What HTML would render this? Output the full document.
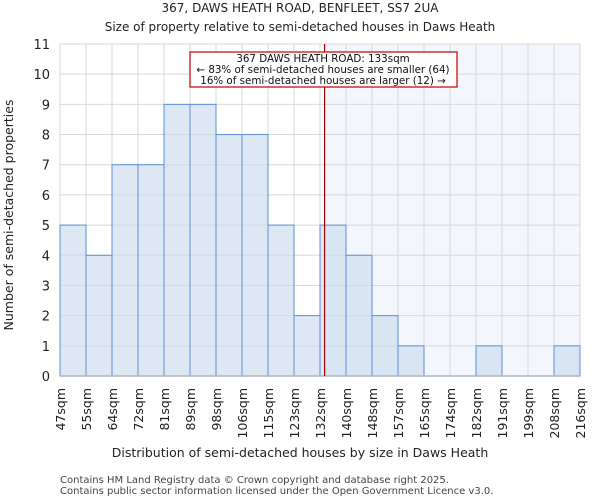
<!DOCTYPE html>
<html><head><meta charset="utf-8"><style>
body{margin:0;background:#fff;font-family:"DejaVu Sans","Liberation Sans",sans-serif}
svg text{font-family:"DejaVu Sans","Liberation Sans",sans-serif}
</style></head><body>
<svg id="c" width="600" height="500" xmlns="http://www.w3.org/2000/svg">
<text x="300" y="12" text-anchor="middle" font-size="12" fill="#222">367, DAWS HEATH ROAD, BENFLEET, SS7 2UA</text>
<text x="300" y="31" text-anchor="middle" font-size="12" fill="#222">Size of property relative to semi-detached houses in Daws Heath</text>
<g id="grid"></g><g id="bars"></g><g id="ann"></g>
<text x="300" y="457" text-anchor="middle" font-size="12.5" fill="#222">Distribution of semi-detached houses by size in Daws Heath</text>
<text transform="translate(13,215) rotate(-90)" text-anchor="middle" font-size="12.5" fill="#222">Number of semi-detached properties</text>
<text x="60" y="483" font-size="10" fill="#444">Contains HM Land Registry data © Crown copyright and database right 2025.</text>
<text x="60" y="494" font-size="10" fill="#444">Contains public sector information licensed under the Open Government Licence v3.0.</text>
</svg>
<script>
const categories=["47sqm","55sqm","64sqm","72sqm","81sqm","89sqm","98sqm","106sqm","115sqm","123sqm","132sqm","140sqm","148sqm","157sqm","165sqm","174sqm","182sqm","191sqm","199sqm","208sqm","216sqm"];
const counts=[5,4,7,7,9,9,8,8,5,2,5,4,2,1,0,0,1,0,0,1];
const yTicks=[0,1,2,3,4,5,6,7,8,9,10,11];
const binStarts=[47,55,64,72,81,89,98,106,115,123,131.5,140,148,157,165,174,182,191,199,208,216];
const propertySize=133;
const X0=60,X1=580,Y0=376,Y1=44,YMAX=11;
const nb=counts.length, bw=(X1-X0)/nb;
const y=v=>Y0-(Y0-Y1)*v/YMAX;
const xi=i=>X0+i*bw;
function xv(v){for(let i=0;i<binStarts.length-1;i++){if(v>=binStarts[i]&&v<=binStarts[i+1])return xi(i)+bw*(v-binStarts[i])/(binStarts[i+1]-binStarts[i]);}return X1;}
const NS="http://www.w3.org/2000/svg";
function mk(t,a,p){const e=document.createElementNS(NS,t);for(const k in a)e.setAttribute(k,a[k]);p.appendChild(e);return e;}
const g=document.getElementById('grid'),b=document.getElementById('bars'),an=document.getElementById('ann');
const lx=xv(propertySize);
const hl=mk('rect',{x:lx,y:Y1,width:X1-lx,height:Y0-Y1,fill:'#f3f6fd'},g);


yTicks.forEach(t=>{
 const l=mk('line',{x1:X0,x2:X1,y1:y(t),y2:y(t),stroke:'#d8d8d8','stroke-width':1},g);
 
 
 const tx=mk('text',{x:X0-10,y:y(t)+5,'text-anchor':'end','font-size':13,fill:'#222'},g);
 tx.textContent=t;
 
 
});
categories.forEach((c,i)=>{
 const l=mk('line',{x1:xi(i),x2:xi(i),y1:Y1,y2:Y0,stroke:'#d8d8d8','stroke-width':1},g);
 
 
 const tx=mk('text',{transform:`translate(${xi(i)+5},${Y0+12}) rotate(-90)`,'text-anchor':'end','font-size':12.5,fill:'#222'},g);
 tx.textContent=c;
 
 
});
counts.forEach((v,i)=>{
 if(v<=0)return;
 const r=mk('rect',{x:xi(i),y:y(v),width:bw,height:Y0-y(v),fill:'rgba(205,220,240,0.65)',stroke:'#5b8fd6','stroke-width':1},b);
 
 
});
const ax=mk('line',{x1:X0,x2:X1,y1:Y0,y2:Y0,stroke:'#aab4c4','stroke-width':1.5},b);


const pl=mk('line',{x1:lx,x2:lx,y1:Y1,y2:Y0,stroke:'#a00000','stroke-width':1.2},an);


const box=mk('rect',{x:190,y:52,width:267,height:35,fill:'#fff',stroke:'#c00000','stroke-width':1.2},an);


["367 DAWS HEATH ROAD: 133sqm","← 83% of semi-detached houses are smaller (64)","16% of semi-detached houses are larger (12) →"].forEach((s,k)=>{
 const t=mk('text',{x:323,y:62+k*11,'text-anchor':'middle','font-size':10.3,fill:'#111'},an);
 t.textContent=s;
 
 
});
</script>
</body></html>
